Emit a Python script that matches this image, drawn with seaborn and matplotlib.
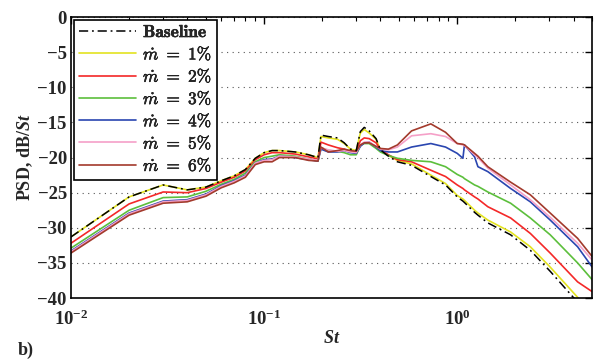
import numpy as np
import pandas as pd
import matplotlib
matplotlib.use("Agg")
import matplotlib.pyplot as plt
import matplotlib.patheffects as pe
import seaborn as sns
from matplotlib.ticker import FixedLocator, LogLocator, NullFormatter

St = [0.01, 0.02, 0.03, 0.04, 0.05, 0.06, 0.07, 0.08, 0.09, 0.1, 0.11, 0.12, 0.145,
      0.17, 0.19, 0.197, 0.215, 0.24, 0.26, 0.28, 0.30, 0.315, 0.33, 0.35, 0.38, 0.40,
      0.44, 0.49, 0.58, 0.73, 0.87, 1.0, 1.07, 1.09, 1.23, 1.28, 1.44, 1.89, 2.39,
      3.03, 4.2, 5.0]

baseline = [-31.3, -25.6, -23.9, -24.6, -24.2, -23.3, -22.6, -21.7, -20.1, -19.3, -19.0,
            -19.0, -19.2, -19.6, -20.0, -16.8, -17.0, -17.2, -17.9, -18.8, -19.0, -16.3,
            -15.7, -16.2, -17.3, -18.9, -19.8, -20.6, -21.1, -22.7, -23.9, -25.6, -26.2,
            -26.4, -27.8, -28.2, -29.3, -31.0, -33.2, -36.2, -40.6, -43.5]
m1 = [-31.3, -25.6, -23.9, -24.6, -24.2, -23.3, -22.6, -21.7, -20.1, -19.3, -19.0,
      -19.0, -19.2, -19.6, -20.0, -17.0, -17.2, -17.4, -18.0, -18.8, -19.0, -16.5,
      -16.0, -16.5, -17.4, -18.9, -19.7, -20.4, -20.9, -22.5, -23.7, -25.4, -25.9,
      -26.1, -27.5, -27.9, -28.9, -30.6, -32.7, -35.6, -39.9, -42.5]
m2 = [-32.2, -26.6, -24.9, -25.0, -24.4, -23.5, -22.8, -21.9, -20.3, -19.6, -19.3,
      -19.3, -19.5, -19.9, -20.2, -17.8, -18.2, -18.6, -18.8, -19.2, -19.2, -17.6,
      -17.2, -17.3, -17.9, -18.8, -19.6, -20.3, -20.6, -21.8, -22.7, -23.9, -24.4,
      -24.6, -25.6, -25.9, -27.0, -28.6, -30.8, -33.6, -37.7, -39.1]
m3 = [-32.9, -27.5, -25.7, -25.6, -24.8, -23.8, -23.1, -22.2, -20.6, -20.0, -19.8,
      -19.6, -19.8, -20.2, -20.5, -18.6, -19.0, -19.1, -19.3, -19.6, -19.6, -18.3,
      -18.0, -18.0, -18.7, -19.2, -19.7, -20.1, -20.4, -20.6, -21.3, -22.4, -22.8,
      -23.0, -23.9, -24.1, -24.9, -26.5, -28.6, -31.0, -35.0, -37.4]
m4 = [-33.3, -27.9, -26.2, -26.0, -25.2, -24.0, -23.3, -22.5, -20.8, -20.3, -20.2,
      -19.8, -20.0, -20.3, -20.5, -18.8, -19.2, -19.2, -19.0, -19.3, -19.4, -18.4,
      -17.9, -17.8, -18.5, -19.0, -19.2, -19.2, -18.5, -18.0, -18.5, -19.4, -20.1,
      -18.2, -19.9, -21.3, -22.0, -24.4, -26.3, -28.9, -32.7, -35.6]
m5 = [-33.4, -28.0, -26.3, -26.1, -25.3, -24.1, -23.4, -22.6, -20.8, -20.4, -20.3,
      -19.8, -19.9, -20.2, -20.4, -18.6, -18.9, -19.1, -19.0, -19.2, -19.3, -18.2,
      -17.8, -17.8, -18.4, -18.8, -18.9, -18.5, -16.9, -16.6, -17.0, -18.0, -18.2,
      -18.3, -19.6, -20.0, -21.5, -23.9, -26.0, -28.5, -32.2, -34.6]
m6 = [-33.6, -28.2, -26.5, -26.3, -25.5, -24.3, -23.6, -22.8, -21.0, -20.6, -20.6,
      -20.0, -20.0, -20.4, -20.5, -18.5, -19.2, -19.0, -18.8, -19.0, -19.1, -18.2,
      -17.9, -17.9, -18.4, -18.7, -18.8, -18.2, -16.2, -15.2, -16.4, -18.0, -18.1,
      -18.2, -19.4, -19.8, -21.3, -23.5, -25.3, -27.9, -31.5, -34.1]

labels = [r"$\mathbf{Baseline}$", r"$\dot{m}\ \mathbf{=\ 1\%}$", r"$\dot{m}\ \mathbf{=\ 2\%}$",
          r"$\dot{m}\ \mathbf{=\ 3\%}$", r"$\dot{m}\ \mathbf{=\ 4\%}$",
          r"$\dot{m}\ \mathbf{=\ 5\%}$", r"$\dot{m}\ \mathbf{=\ 6\%}$"]
series = [baseline, m1, m2, m3, m4, m5, m6]
colors = ["black", "#e3e320", "#f42828", "#5cbf3c", "#2a46b0", "#f5a0c8", "#a33a2c"]

yticks = [0, -5, -10, -15, -20, -25, -30, -35, -40]
ytick_labels = ["0", "\u22125", "\u221210", "\u221215", "\u221220", "\u221225",
                "\u221230", "\u221235", "\u221240"]
xticks = [0.01, 0.1, 1.0]
xtick_labels = [r"$\mathbf{10^{-2}}$", r"$\mathbf{10^{-1}}$", r"$\mathbf{10^{0}}$"]

sns.set_theme(style="white")
plt.rcParams["font.family"] = ["Liberation Serif", "DejaVu Serif"]
plt.rcParams["font.weight"] = "bold"
plt.rcParams["mathtext.fontset"] = "custom"
plt.rcParams["mathtext.rm"] = "Liberation Serif:bold"
plt.rcParams["mathtext.it"] = "Liberation Serif:italic:bold"
plt.rcParams["mathtext.bf"] = "Liberation Serif:bold"

fig = plt.figure(figsize=(5.94, 3.61), dpi=100)
ax = fig.add_axes([0.1195, 0.1745, 0.8775, 0.778])

frames = []
for lab, vals in zip(labels, series):
    frames.append(pd.DataFrame({"St": St, "PSD": vals, "case": lab}))
df = pd.concat(frames, ignore_index=True)

for lab, col in zip(labels, colors):
    sub = df[df["case"] == lab]
    if lab == labels[0]:
        sns.lineplot(data=sub, x="St", y="PSD", ax=ax, color=col, lw=1.1,
                     label=lab, zorder=3, sort=False,
                     linestyle=(0, (6, 2.5, 1.2, 2.5)))
    else:
        sns.lineplot(data=sub, x="St", y="PSD", ax=ax, color=col, lw=1.2,
                     label=lab, zorder=2, sort=False)

ax.set_xscale("log")
ax.set_xlim(0.01, 5.0)
ax.set_ylim(-40, 0)
ax.yaxis.set_major_locator(FixedLocator(yticks))
ax.set_yticklabels(ytick_labels)
ax.set_xticks(xticks)
ax.set_xticklabels(xtick_labels)
ax.xaxis.set_minor_locator(LogLocator(base=10, subs=np.arange(2, 10)))
ax.xaxis.set_minor_formatter(NullFormatter())

ax.grid(axis="y", linestyle=(0, (1, 4)), color="#555555", lw=0.8)
ax.grid(axis="x", visible=False)
for sp in ax.spines.values():
    sp.set_color("black")
    sp.set_linewidth(1.2)
ax.tick_params(axis="both", which="both", direction="in", top=True, right=True,
               color="black", labelsize=13.5)
ax.tick_params(axis="both", which="major", length=5, width=1.0)
ax.tick_params(axis="x", which="minor", length=3, width=0.8)
ax.tick_params(axis="x", which="major", pad=8)
ax.tick_params(axis="y", which="major", pad=3)
for t in ax.get_yticklabels() + ax.get_xticklabels():
    t.set_fontweight("bold")

ax.set_xlabel(r"$St$", fontsize=13, labelpad=1)
ax.set_ylabel(r"PSD, dB/$St$", fontsize=13, fontweight="bold", labelpad=2)

leg = ax.legend(loc="upper left", fontsize=12.5, frameon=True, fancybox=False,
                edgecolor="black", framealpha=1, handlelength=3.3,
                borderaxespad=0.15, labelspacing=0.22, handletextpad=0.4,
                borderpad=0.3)
leg.get_frame().set_linewidth(1.2)
for t in leg.get_texts():
    t.set_math_fontfamily("cm")
    t.set_path_effects([pe.withStroke(linewidth=0.35, foreground="black")])

fig.text(0.03, 0.005, "b)", fontsize=13, fontweight="bold", ha="left", va="bottom")

fig.savefig("out.png", dpi=100)
